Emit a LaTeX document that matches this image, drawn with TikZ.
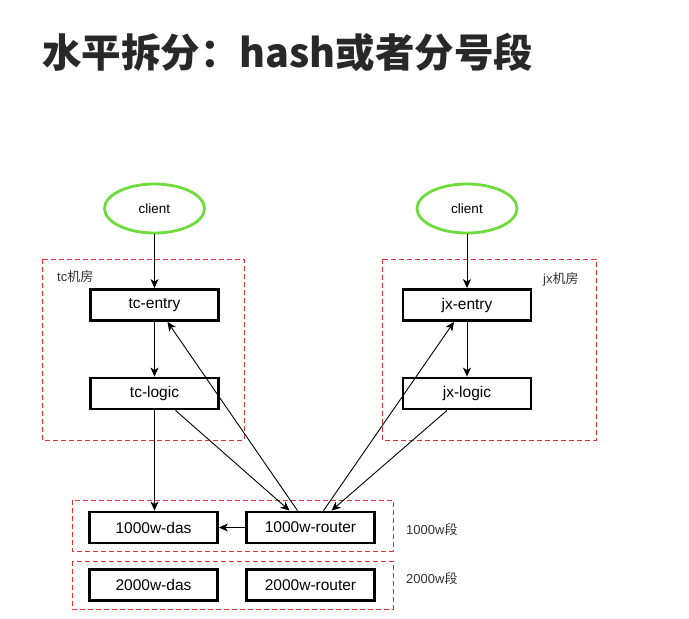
\documentclass[tikz,border=0pt]{standalone}
\usepackage{fontspec}
\setmainfont{Liberation Sans}
\newfontfamily\cjk{Noto Sans CJK SC}
\usetikzlibrary{arrows.meta}
\definecolor{grn}{RGB}{110,220,60}
\definecolor{dred}{RGB}{225,50,50}
\definecolor{ttl}{RGB}{40,40,40}
\tikzset{
  box/.style={draw=black, line width=2.8pt, minimum width=128pt, minimum height=31pt, inner sep=0pt, font=\fontsize{15.5}{17}\selectfont},
  cli/.style={draw=grn, line width=2.8pt, ellipse, minimum width=100pt, minimum height=49pt, inner sep=0pt, font=\fontsize{13.5}{15}\selectfont},
  frame/.style={draw=dred, line width=0.9pt, dash pattern=on 5pt off 3pt},
  arr/.style={draw=black, line width=0.9pt, -{Stealth[length=9pt,width=8pt,inset=2.5pt]}},
  lbl/.style={inner sep=0pt, font=\fontsize{13}{15}\selectfont, text=black!80}
}
\usetikzlibrary{shapes.geometric}
\begin{document}
\begin{tikzpicture}[x=1pt,y=-1pt]
\useasboundingbox (0,0) rectangle (689,619);
\fill[white] (0,0) rectangle (689,619);
% title
\node[anchor=base west, inner sep=0pt, text=ttl, font=\cjk\bfseries\fontsize{39.5}{42}\selectfont] (title) at (42,67.5) {水平拆分：hash或者分号段};
% frames
\draw[frame] (42,259) rectangle (244,440);
\draw[frame] (382,259) rectangle (596,440);
\draw[frame] (72,500) rectangle (393,551);
\draw[frame] (72,561) rectangle (393,609);
\node[lbl, anchor=west] (tcl-lab) at (57,277) {tc{\cjk 机房}};
\node[lbl, anchor=west] (jxl-lab) at (543,279) {jx{\cjk 机房}};
\node[lbl, anchor=west] (l1000) at (406,530) {1000w{\cjk 段}};
\node[lbl, anchor=west] (l2000) at (406,579) {2000w{\cjk 段}};
% clients
\node[cli] (c1) at (154.5,208.5) {client};
\node[cli] (c2) at (467,208.5) {client};
% boxes
\node[box] (tce) at (154.5,305) {tc-entry};
\node[box] (tcl) at (154.5,393.5) {tc-logic};
\node[box] (jxe) at (467,305) {jx-entry};
\node[box] (jxl) at (467,393.5) {jx-logic};
\node[box] (das1) at (153.5,527.5) {1000w-das};
\node[box] (rt1) at (310.5,527.5) {1000w-router};
\node[box] (das2) at (153.5,585) {2000w-das};
\node[box] (rt2) at (310.5,585) {2000w-router};
% connectors
\draw[arr] (c1) -- (tce);
\draw[arr] (tce) -- (tcl);
\draw[arr] (c2) -- (jxe);
\draw[arr] (jxe) -- (jxl);
\draw[arr] (tcl.south) -- (das1.north -| tcl.south);
\draw[arr] (rt1.west) -- (das1.east);
\draw[arr] ([xshift=21pt]tcl.south) -- ([xshift=-21pt]rt1.north);
\draw[arr] ([xshift=-13pt]rt1.north) -- ([xshift=13pt]tce.south);
\draw[arr] ([xshift=13pt]rt1.north) -- ([xshift=-13pt]jxe.south);
\draw[arr] ([xshift=-20pt]jxl.south) -- ([xshift=21pt]rt1.north);
\end{tikzpicture}
\end{document}
